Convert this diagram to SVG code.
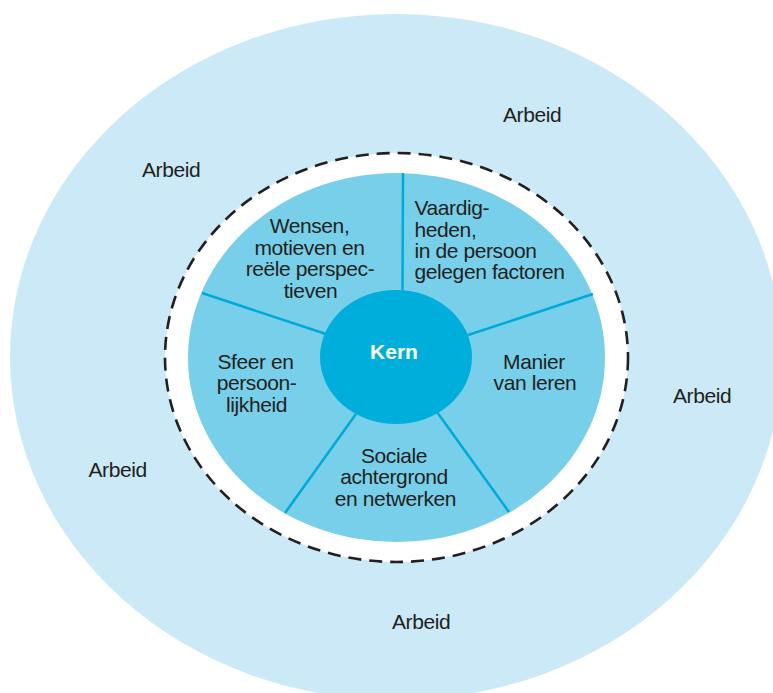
<svg xmlns="http://www.w3.org/2000/svg" width="773" height="693" viewBox="0 0 773 693">
  <style>
    .lbl { font-family: "Liberation Sans", Arial, sans-serif; font-size: 21px; fill: #231f20; letter-spacing: -0.4px; }
    .mid { text-anchor: middle; }
    .core { font-family: "Liberation Sans", Arial, sans-serif; font-size: 21px; font-weight: bold; fill: #ffffff; text-anchor: middle; }
    .divider { stroke: #00aad8; stroke-width: 2.5; fill: none; }
  </style>
  <rect width="773" height="693" fill="#ffffff"/>

  <!-- outer field: Arbeid -->
  <g id="arbeid">
    <ellipse cx="396" cy="357" rx="386" ry="343" fill="#cbe9f6"/>
    <text class="lbl" x="503" y="121.5">Arbeid</text>
    <text class="lbl" x="142" y="176.5">Arbeid</text>
    <text class="lbl" x="673" y="403">Arbeid</text>
    <text class="lbl" x="88.5" y="476.5">Arbeid</text>
    <text class="lbl" x="392" y="629">Arbeid</text>
  </g>

  <!-- dashed boundary ring -->
  <g id="boundary">
    <ellipse cx="396.5" cy="357.5" rx="231.5" ry="204.5" fill="#ffffff" stroke="#231f20" stroke-width="2.6" stroke-dasharray="13 8"/>
  </g>

  <!-- inner wheel -->
  <g id="wheel">
    <ellipse cx="396.5" cy="357.5" rx="208.5" ry="184.5" fill="#77cfea"/>
  </g>

  <!-- segment dividers -->
  <g id="connectors">
    <line class="divider" x1="403" y1="173" x2="402.5" y2="292"/>
    <line class="divider" x1="202" y1="293" x2="326" y2="334"/>
    <line class="divider" x1="593" y1="294" x2="468" y2="335"/>
    <line class="divider" x1="285" y1="513" x2="356" y2="414"/>
    <line class="divider" x1="509" y1="512" x2="437" y2="412"/>
  </g>

  <g id="wensen">
    <text class="lbl mid" x="309.5" y="233">Wensen,</text>
    <text class="lbl mid" x="309.5" y="254.5">motieven en</text>
    <text class="lbl mid" x="310" y="276">reële perspec-</text>
    <text class="lbl mid" x="310.5" y="297.5">tieven</text>
  </g>

  <g id="vaardigheden">
    <text class="lbl" x="414.5" y="215">Vaardig-</text>
    <text class="lbl" x="414.5" y="236.5">heden,</text>
    <text class="lbl" x="414.5" y="257.5">in de persoon</text>
    <text class="lbl" x="414.5" y="278.5">gelegen factoren</text>
  </g>

  <g id="sfeer">
    <text class="lbl mid" x="255.5" y="368.5">Sfeer en</text>
    <text class="lbl mid" x="256.5" y="390">persoon-</text>
    <text class="lbl mid" x="256.5" y="411.5">lijkheid</text>
  </g>

  <g id="manier">
    <text class="lbl mid" x="534" y="368.5">Manier</text>
    <text class="lbl mid" x="535" y="390">van leren</text>
  </g>

  <g id="sociale">
    <text class="lbl mid" x="394" y="462.5">Sociale</text>
    <text class="lbl mid" x="394" y="484">achtergrond</text>
    <text class="lbl mid" x="395.5" y="505.5">en netwerken</text>
  </g>

  <!-- centre -->
  <g id="kern">
    <ellipse cx="396" cy="357" rx="76" ry="67" fill="#00aedb"/>
    <text class="core" x="394" y="358.5">Kern</text>
  </g>
</svg>
